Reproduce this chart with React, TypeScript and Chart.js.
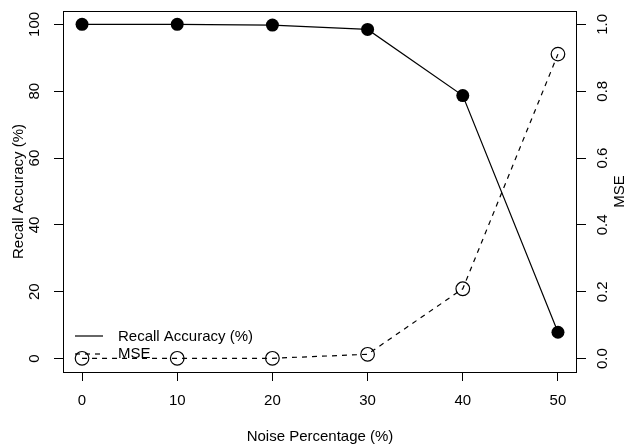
import { useEffect, useRef } from 'react';
import { Chart, registerables, Plugin } from 'chart.js';

Chart.register(...registerables);

// data
const noiseLevels = [0, 10, 20, 30, 40, 50];
const recallAccuracy = [100, 100, 99.8, 98.5, 78.7, 7.9];
const mseValues = [0.001, 0.001, 0.001, 0.013, 0.209, 0.911];

const xTicks = [0, 10, 20, 30, 40, 50];
const leftTicks = [0, 20, 40, 60, 80, 100];
const rightTicks = [0, 0.2, 0.4, 0.6, 0.8, 1.0];

const FONT = '15px "Liberation Sans", Arial, Helvetica, sans-serif';

// R-style box, rotated axis labels, titles and legend
const rDecor: Plugin = {
    id: 'rDecor',
    afterDraw(chart) {
        const { ctx, chartArea } = chart;
        const x = chart.scales.x;
        const yL = chart.scales.y;
        const yR = chart.scales.y1;
        ctx.save();
        ctx.strokeStyle = '#000';
        ctx.lineWidth = 1;
        ctx.strokeRect(
            Math.round(chartArea.left) + 0.5,
            Math.round(chartArea.top) + 0.5,
            Math.round(chartArea.right - chartArea.left) - 1,
            Math.round(chartArea.bottom - chartArea.top)
        );

        ctx.fillStyle = '#000';
        ctx.font = FONT;
        ctx.textAlign = 'center';
        ctx.textBaseline = 'middle';

        xTicks.forEach((v) => {
            ctx.fillText(String(v), x.getPixelForValue(v), 401);
        });
        ctx.fillText('Noise Percentage (%)', (chartArea.left + chartArea.right) / 2, 437);

        const rotated = (text: string, px: number, py: number) => {
            ctx.save();
            ctx.translate(px, py);
            ctx.rotate(-Math.PI / 2);
            ctx.fillText(text, 0, 0);
            ctx.restore();
        };
        const midY = (chartArea.top + chartArea.bottom) / 2;
        leftTicks.forEach((v) => rotated(String(v), 35, yL.getPixelForValue(v)));
        rightTicks.forEach((v) => rotated(v.toFixed(1), 603, yR.getPixelForValue(v)));
        rotated('Recall Accuracy (%)', 19, midY);
        rotated('MSE', 620, midY);

        // legend (no box)
        ctx.lineWidth = 1.2;
        ctx.beginPath();
        ctx.moveTo(75, 336);
        ctx.lineTo(103, 336);
        ctx.stroke();
        ctx.setLineDash([5, 5]);
        ctx.beginPath();
        ctx.moveTo(75, 354);
        ctx.lineTo(103, 354);
        ctx.stroke();
        ctx.setLineDash([]);
        ctx.textAlign = 'left';
        ctx.fillText('Recall Accuracy (%)', 118, 337);
        ctx.fillText('MSE', 118, 354);
        ctx.restore();
    },
};

export default function App() {
    const chartRef = useRef<HTMLCanvasElement | null>(null);
    const chartInstance = useRef<Chart | null>(null);

    useEffect(() => {
        document.body.style.margin = '0';
        const ctx = chartRef.current?.getContext('2d');
        if (!ctx) return;
        if (chartInstance.current) chartInstance.current.destroy();

        const tickGrid = { display: true, drawOnChartArea: false, drawTicks: true, tickLength: 9, color: '#000', lineWidth: 1 };

        chartInstance.current = new Chart(ctx, {
            type: 'line',
            data: {
                datasets: [
                    {
                        label: 'Recall Accuracy (%)',
                        data: noiseLevels.map((n, i) => ({ x: n, y: recallAccuracy[i] })),
                        yAxisID: 'y',
                        borderColor: '#000',
                        borderWidth: 1.2,
                        pointRadius: 6.5,
                        pointBackgroundColor: '#000',
                        pointBorderColor: '#000',
                        pointBorderWidth: 0,
                        tension: 0,
                    },
                    {
                        label: 'MSE',
                        data: noiseLevels.map((n, i) => ({ x: n, y: mseValues[i] })),
                        yAxisID: 'y1',
                        borderColor: '#000',
                        borderWidth: 1.2,
                        borderDash: [5, 5],
                        pointRadius: 6.8,
                        pointBackgroundColor: 'rgba(0,0,0,0)',
                        pointBorderColor: '#000',
                        pointBorderWidth: 1.2,
                        tension: 0,
                    },
                ],
            },
            options: {
                animation: false,
                responsive: true,
                maintainAspectRatio: false,
                layout: { padding: { top: 11, left: 0, right: 0, bottom: 0 } },
                plugins: {
                    legend: { display: false },
                    tooltip: { enabled: false },
                },
                scales: {
                    x: {
                        type: 'linear',
                        min: -2,
                        max: 52,
                        afterBuildTicks: (s) => { s.ticks = xTicks.map((v) => ({ value: v })); },
                        afterFit: (s) => { s.height = 72; },
                        grid: tickGrid,
                        border: { display: false },
                        ticks: { display: false },
                    },
                    y: {
                        type: 'linear',
                        position: 'left',
                        min: -4,
                        max: 104,
                        afterBuildTicks: (s) => { s.ticks = leftTicks.map((v) => ({ value: v })); },
                        afterFit: (s) => { s.width = 63; },
                        grid: tickGrid,
                        border: { display: false },
                        ticks: { display: false },
                    },
                    y1: {
                        type: 'linear',
                        position: 'right',
                        min: -0.04,
                        max: 1.04,
                        afterBuildTicks: (s) => { s.ticks = rightTicks.map((v) => ({ value: v })); },
                        afterFit: (s) => { s.width = 51; },
                        grid: tickGrid,
                        border: { display: false },
                        ticks: { display: false },
                    },
                },
            },
            plugins: [rDecor],
        });

        return () => {
            if (chartInstance.current) {
                chartInstance.current.destroy();
                chartInstance.current = null;
            }
        };
    }, []);

    return (
        <div style={{ width: 628, height: 444, position: 'relative', background: '#fff' }}>
            <canvas ref={chartRef}></canvas>
        </div>
    );
}
